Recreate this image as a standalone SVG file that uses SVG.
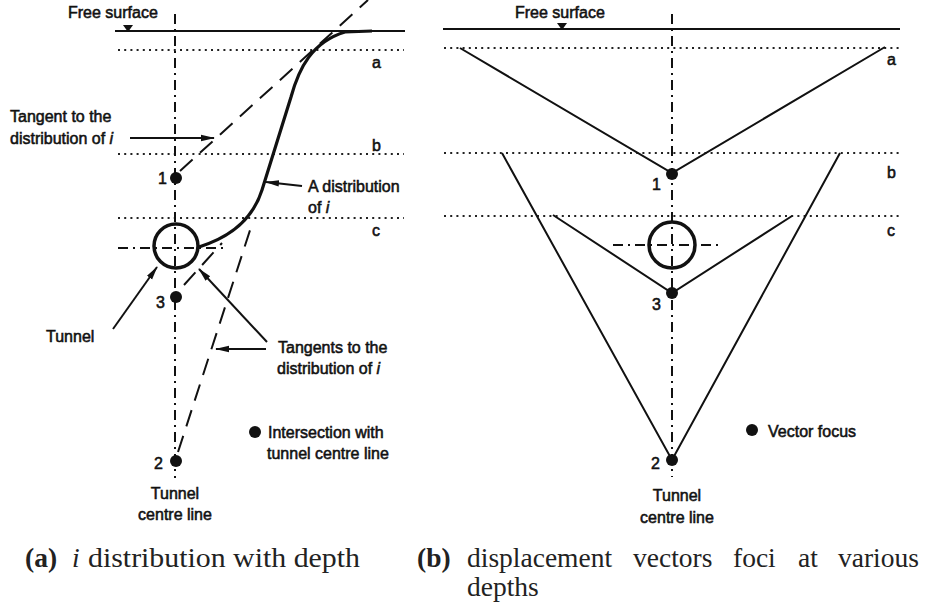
<svg xmlns="http://www.w3.org/2000/svg" width="928" height="609" viewBox="0 0 928 609">
<style>
.lbl{font-family:"Liberation Sans",Arial,sans-serif;font-size:16px;fill:#111;stroke:#111;stroke-width:0.55}
.cap{font-family:"Liberation Serif","Times New Roman",serif;font-size:27.5px;fill:#222}
.capb{font-weight:bold}
.surf{stroke:#111;stroke-width:2;fill:none}
.dot{stroke:#222;stroke-width:2;stroke-dasharray:2 4.2;fill:none}
.cl{stroke:#111;stroke-width:2;stroke-dasharray:10 5 2 5;fill:none}
.tan{stroke:#111;stroke-width:2;stroke-dasharray:17 10;fill:none}
.vec{stroke:#111;stroke-width:2;fill:none}
.tun{stroke:#111;stroke-width:3.5;fill:none}
.pt{fill:#111}
.arr{stroke:#111;stroke-width:2;fill:none;marker-end:url(#ah)}
</style>
<defs>
<marker id="ah" markerUnits="userSpaceOnUse" markerWidth="14" markerHeight="8" refX="13" refY="4" orient="auto">
<path d="M0,0.8 L14,4 L0,7.2 z" fill="#111"/>
</marker>
<path id="tri" d="M-5,-4 L5,-4 L0,3 z" fill="#111"/>
</defs>
<rect width="928" height="609" fill="#fff"/>

<!-- ===== Panel (a) ===== -->
<g id="a-free-surface">
<line class="surf" x1="115" y1="31" x2="405" y2="31"/>
<use href="#tri" x="128" y="29"/>
<text class="lbl" x="68" y="18">Free surface</text>
</g>
<g id="a-levels">
<line class="dot" x1="118" y1="50" x2="404" y2="50"/>
<line class="dot" x1="118" y1="154" x2="404" y2="154"/>
<line class="dot" x1="118" y1="218" x2="404" y2="218"/>
<text class="lbl" x="372" y="68">a</text>
<text class="lbl" x="372" y="151">b</text>
<text class="lbl" x="372" y="236">c</text>
</g>
<g id="a-centre-line">
<line class="cl" x1="175" y1="14" x2="175" y2="478"/>
<text class="lbl" x="175" y="499" text-anchor="middle">Tunnel</text>
<text class="lbl" x="175" y="520" text-anchor="middle">centre line</text>
</g>
<g id="a-tunnel">
<circle class="tun" cx="176" cy="246" r="22"/>
<line class="cl" x1="118" y1="248" x2="224" y2="248"/>
<text class="lbl" x="46" y="342">Tunnel</text>
</g>
<g id="a-distribution">
<path d="M199,247 C228,238 252,222 262,190 L291,97 C299,68 312,42 345,32 L372,31" stroke="#111" stroke-width="3.2" fill="none"/>
<text class="lbl" x="308" y="192">A distribution</text>
<text class="lbl" x="308" y="213">of <tspan font-style="italic">i</tspan></text>
</g>
<g id="a-tangents">
<line class="tan" x1="180" y1="171" x2="368" y2="0"/>
<line class="tan" x1="178" y1="452" x2="253" y2="221"/>
<line class="tan" x1="184" y1="285" x2="222" y2="243"/>
<text class="lbl" x="10" y="122">Tangent to the</text>
<text class="lbl" x="10" y="144">distribution of <tspan font-style="italic">i</tspan></text>
<text class="lbl" x="278" y="353">Tangents to the</text>
<text class="lbl" x="277" y="374">distribution of <tspan font-style="italic">i</tspan></text>
</g>
<g id="a-points">
<circle class="pt" cx="176" cy="178" r="6"/>
<text class="lbl" x="158" y="184">1</text>
<circle class="pt" cx="176" cy="297" r="6"/>
<text class="lbl" x="156" y="308">3</text>
<circle class="pt" cx="176" cy="461" r="6"/>
<text class="lbl" x="154" y="469">2</text>
</g>
<g id="a-legend">
<circle class="pt" cx="255" cy="432" r="6"/>
<text class="lbl" x="268" y="438">Intersection with</text>
<text class="lbl" x="267" y="459">tunnel centre line</text>
</g>

<!-- ===== Panel (b) ===== -->
<g id="b-free-surface">
<line class="surf" x1="443" y1="29" x2="900" y2="29"/>
<use href="#tri" x="562" y="27"/>
<text class="lbl" x="515" y="18">Free surface</text>
</g>
<g id="b-levels">
<line class="dot" x1="444" y1="48" x2="900" y2="48"/>
<line class="dot" x1="444" y1="153" x2="900" y2="153"/>
<line class="dot" x1="444" y1="216" x2="900" y2="216"/>
<text class="lbl" x="887" y="65">a</text>
<text class="lbl" x="887" y="178">b</text>
<text class="lbl" x="887" y="236">c</text>
</g>
<g id="b-centre-line">
<line class="cl" x1="672" y1="14" x2="672" y2="477"/>
<text class="lbl" x="677" y="501" text-anchor="middle">Tunnel</text>
<text class="lbl" x="677" y="523" text-anchor="middle">centre line</text>
</g>
<g id="b-tunnel">
<circle class="tun" cx="672" cy="245" r="23"/>
<line class="cl" x1="613" y1="245" x2="723" y2="245"/>
</g>
<g id="b-vectors">
<polyline class="vec" points="460,48 672,173 885,47"/>
<polyline class="vec" points="553,215 672,293 792,216"/>
<polyline class="vec" points="502,153 672,460 840,153"/>
</g>
<g id="b-points">
<circle class="pt" cx="672" cy="174" r="6"/>
<text class="lbl" x="652" y="190">1</text>
<circle class="pt" cx="672" cy="293" r="6"/>
<text class="lbl" x="652" y="310">3</text>
<circle class="pt" cx="672" cy="460" r="6"/>
<text class="lbl" x="651" y="469">2</text>
</g>
<g id="b-legend">
<circle class="pt" cx="752" cy="430" r="6"/>
<text class="lbl" x="768" y="437">Vector focus</text>
</g>

<!-- ===== Connectors (arrows) ===== -->
<g id="connectors">
<line class="arr" x1="130" y1="138" x2="214" y2="138"/>
<line class="arr" x1="302" y1="186" x2="266" y2="182"/>
<line class="arr" x1="113" y1="329" x2="157" y2="267"/>
<line class="arr" x1="266" y1="349" x2="216" y2="349"/>
<line class="arr" x1="267" y1="342" x2="199" y2="269"/>
</g>

<!-- ===== Captions ===== -->
<g id="captions">
<text class="cap" y="567"><tspan class="capb" x="25">(a)</tspan><tspan x="72" font-style="italic">i</tspan><tspan x="88" textLength="272" lengthAdjust="spacingAndGlyphs">distribution with depth</tspan></text>
<text class="cap" y="567"><tspan class="capb" x="417">(b)</tspan><tspan x="467">displacement</tspan><tspan x="633">vectors</tspan><tspan x="733">foci</tspan><tspan x="798">at</tspan><tspan x="838">various</tspan></text>
<text class="cap" x="467" y="596">depths</text>
</g>
</svg>
